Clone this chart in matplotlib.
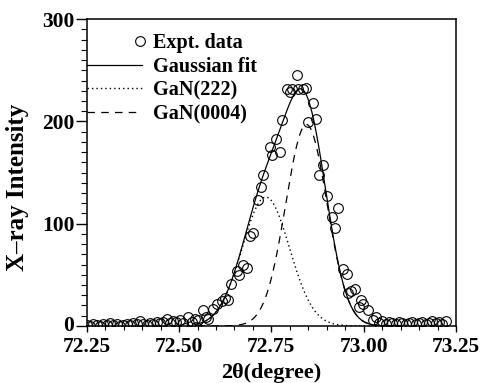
import numpy as np
import matplotlib
matplotlib.use("Agg")
import matplotlib.pyplot as plt
from matplotlib.legend_handler import HandlerLine2D
from matplotlib.ticker import MultipleLocator
from matplotlib.transforms import ScaledTranslation

# ---- data ----
expt_x = [72.250, 72.260, 72.268, 72.277, 72.286, 72.295, 72.304, 72.313, 72.322, 72.331,
          72.340, 72.349, 72.358, 72.367, 72.376, 72.385, 72.394, 72.403, 72.412, 72.421,
          72.430, 72.439, 72.448, 72.457, 72.466, 72.475, 72.484, 72.493, 72.502, 72.511,
          72.516, 72.525, 72.534, 72.543, 72.547, 72.552,
          72.565, 72.574, 72.579, 72.592, 72.603, 72.615, 72.624, 72.633, 72.642, 72.657,
          72.663, 72.674, 72.683, 72.692, 72.701, 72.713, 72.723, 72.728, 72.746, 72.753,
          72.762, 72.773, 72.779, 72.791, 72.800, 72.805, 72.820, 72.822, 72.835, 72.843,
          72.850, 72.863, 72.872, 72.880, 72.890, 72.902, 72.913, 72.922, 72.931, 72.943,
          72.954, 72.958, 72.967, 72.976, 72.988, 72.994, 72.999, 73.012, 73.024, 73.033,
          73.042, 73.051, 73.060, 73.069, 73.078, 73.087, 73.096, 73.105, 73.114, 73.123,
          73.132, 73.141, 73.150, 73.159, 73.168, 73.177, 73.186, 73.195, 73.204, 73.213,
          73.222]
expt_y = [1, 0, 2, 1, 0, 2, 1, 3, 1, 2,
          0, 1, 2, 1, 3, 2, 5, 2, 1, 3,
          2, 4, 3, 4, 7, 3, 5, 4, 6, 3,
          -2, 9, 4, 7, -1, 6,
          16, 9, 7, 17, 21, 24, 27, 25, 41, 54,
          50, 60, 57, 88, 91, 123, 136, 148, 175, 167,
          183, 170, 201, 232, 229, 232, 245, 232, 232, 233,
          199, 218, 202, 148, 157, 127, 107, 96, 115, 56,
          51, 32, 34, 36, 19, 25, 21, 16, 6, 9,
          3, 5, 2, 4, 3, 2, 4, 3, 2, 3,
          4, 2, 3, 4, 2, 3, 5, 3, 4, 2,
          5]

# Gaussian fit parameters (center, sigma, amplitude)
gan222_center, gan222_sigma, gan222_amp = 72.735, 0.064, 126
gan0004_center, gan0004_sigma, gan0004_amp = 72.845, 0.056, 197

xlim = (72.25, 73.25)
ylim = (0, 300)
xticks = [72.25, 72.50, 72.75, 73.00, 73.25]
xticklabels = ["72.25", "72.50", "72.75", "73.00", "73.25"]
yticks = [0, 100, 200, 300]

# ---- figure ----
plt.rcParams['font.family'] = ['Liberation Serif', 'DejaVu Serif']
plt.rcParams['font.weight'] = 'bold'

fig = plt.figure(figsize=(4.82, 3.83), dpi=100)
ax = fig.add_axes([0.180, 0.149, 0.766, 0.801])

xf = np.linspace(72.55, 73.10, 600)
g1 = gan222_amp * np.exp(-(xf - gan222_center) ** 2 / (2 * gan222_sigma ** 2))
g2 = gan0004_amp * np.exp(-(xf - gan0004_center) ** 2 / (2 * gan0004_sigma ** 2))

ax.plot(expt_x, expt_y, linestyle='none', marker='o', markersize=7,
        markerfacecolor='none', markeredgecolor='black', markeredgewidth=0.8,
        label='Expt. data', zorder=3)
ax.plot(xf, g1 + g2, color='black', linewidth=0.9, label='Gaussian fit')
ax.plot(xf, g1, color='black', linewidth=1.0, linestyle=(0, (1, 2.2)), label='GaN(222)')
ax.plot(xf, g2, color='black', linewidth=0.9, linestyle=(0, (6, 5)), label='GaN(0004)')

ax.set_xlim(*xlim)
ax.set_ylim(*ylim)
ax.set_xticks(xticks)
ax.set_xticklabels(xticklabels)
ax.set_yticks(yticks)
ax.xaxis.set_minor_locator(MultipleLocator(0.05))
ax.yaxis.set_minor_locator(MultipleLocator(10))
ax.tick_params(axis='x', which='major', direction='out', length=4.5, width=1.0,
               labelsize=15.5, pad=3.6)
ax.tick_params(axis='x', which='minor', direction='out', length=3, width=0.8)
ax.tick_params(axis='y', which='major', direction='out', length=8, width=1.0,
               labelsize=15.5, pad=1)
ax.tick_params(axis='y', which='minor', direction='out', length=4.2, width=0.8)
for lab in ax.get_xticklabels() + ax.get_yticklabels():
    lab.set_fontweight('bold')
for sp in ax.spines.values():
    sp.set_linewidth(1.1)

# nudge the "0" label up slightly so it does not collide with "72.25"
zero_lab = ax.yaxis.get_major_ticks()[0].label1
zero_lab.set_transform(zero_lab.get_transform() +
                       ScaledTranslation(0, 1.8 / 72, fig.dpi_scale_trans))

ax.set_xlabel('2θ(degree)', fontsize=16, fontweight='bold')
ax.set_ylabel('X\u2013ray Intensity', fontsize=18, fontweight='bold')
ax.xaxis.set_label_coords(0.5, -0.12)
ax.yaxis.set_label_coords(-0.157, 0.451)


class RightMarker(HandlerLine2D):
    def get_xdata(self, legend, xdescent, ydescent, width, height, fontsize):
        x = np.array([-xdescent + width - 0.1 * fontsize])
        return x, x


handles, labels = ax.get_legend_handles_labels()
leg = ax.legend(handles, labels, loc='upper left', frameon=False,
                bbox_to_anchor=(0.0, 1 - 14 / 307),
                handlelength=2.75, handletextpad=0.55, labelspacing=0.18,
                borderaxespad=0.0, borderpad=0.0,
                handler_map={handles[0]: RightMarker(numpoints=1)},
                prop={'weight': 'bold', 'size': 14.5})

fig.savefig('out.png', dpi=100)
